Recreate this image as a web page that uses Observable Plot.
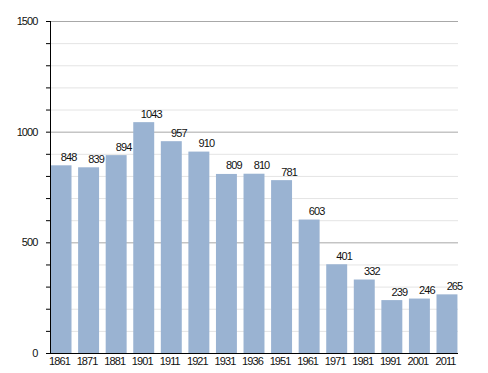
<!DOCTYPE html>
<html>
<head>
<meta charset="utf-8">
<script src="https://cdn.jsdelivr.net/npm/d3@7"></script>
<script src="https://cdn.jsdelivr.net/npm/@observablehq/plot@0.6"></script>
<style>
  body { margin: 0; background: #fff; }
  svg text { letter-spacing: -0.9px; }
</style>
</head>
<body>
<div id="chart"></div>
<script>
const years = ["1861","1871","1881","1901","1911","1921","1931","1936","1951","1961","1971","1981","1991","2001","2011"];
const population = [848, 839, 894, 1043, 957, 910, 809, 810, 781, 603, 401, 332, 239, 246, 265];
const minorTicks = d3.range(100, 1500, 100).filter(d => d % 500 !== 0);
const majorTicks = [500, 1000, 1500];
const allTicks = d3.range(0, 1501, 100);

const data = years.map((y, i) => ({year: y, value: population[i]}));
const font = "'Liberation Sans', Arial, sans-serif";

const chart = Plot.plot({
  width: 488,
  height: 373,
  marginLeft: 50,
  marginRight: 30,
  marginTop: 21,
  marginBottom: 20,
  style: {fontFamily: font, fontSize: "11px", color: "#111", background: "#fff"},
  x: {domain: years, paddingInner: 0.24, paddingOuter: 0.02, round: false, label: null},
  y: {domain: [0, 1500], label: null},
  marks: [
    Plot.ruleY(minorTicks, {stroke: "#e4e4e4", strokeWidth: 1}),
    Plot.ruleY(majorTicks, {stroke: "#a8a8a8", strokeWidth: 1}),
    Plot.barY(data, {x: "year", y: "value", fill: "#9ab3d2"}),
    Plot.text(data, {x: "year", y: "value", text: d => String(d.value), dx: 7, dy: -8.5, lineAnchor: "middle", fill: "#111", fontSize: 11}),
    Plot.axisY({ticks: allTicks, tickSize: 4, tickPadding: 9, tickFormat: d => d % 500 === 0 ? String(d) : "", stroke: "#000", fontSize: 11}),
    Plot.axisX({tickSize: 0, tickPadding: 4, fontSize: 11, dx: -2}),
    Plot.frame({anchor: "left", stroke: "#000"}),
    Plot.ruleY([0], {stroke: "#000"})
  ]
});
document.getElementById("chart").appendChild(chart);
</script>
</body>
</html>
